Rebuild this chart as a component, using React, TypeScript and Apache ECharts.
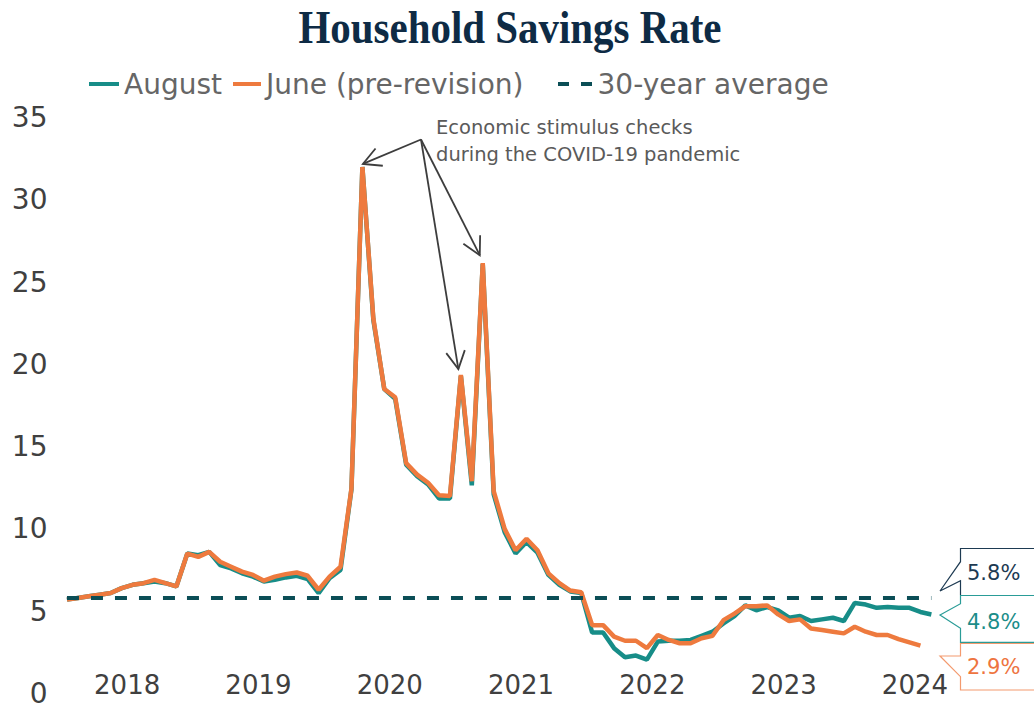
import { useEffect, useRef } from "react";
import * as echarts from "echarts";

const years = ["2018", "2019", "2020", "2021", "2022", "2023", "2024"];
const monthNames = ["01", "02", "03", "04", "05", "06", "07", "08", "09", "10", "11", "12"];

// Personal saving rate, % (August release), Jan 2018 – Aug 2024
const augustRate = [
  5.7, 5.8, 5.9, 6.0, 6.1, 6.4, 6.6, 6.7, 6.8, 6.7, 6.5, 8.5,
  8.4, 8.6, 7.8, 7.6, 7.3, 7.1, 6.8, 6.9, 7.05, 7.15, 6.95, 6.1,
  7.0, 7.5, 12.4, 32.0, 22.7, 18.5, 17.9, 13.9, 13.2, 12.7, 11.85, 11.85,
  19.3, 12.65, 26.1, 12.1, 9.8, 8.5, 9.2, 8.55, 7.2, 6.6, 6.2, 6.1,
  3.7, 3.7, 2.75, 2.2, 2.3, 2.05, 3.15, 3.2, 3.2, 3.25, 3.5, 3.75,
  4.25, 4.7, 5.35, 5.05, 5.25, 5.05, 4.6, 4.7, 4.4, 4.5, 4.6, 4.4,
  5.5, 5.4, 5.2, 5.25, 5.2, 5.2, 4.95, 4.8,
];

// Personal saving rate, % (June release, pre-revision), Jan 2018 – Jul 2024
const juneRate = [
  5.7, 5.8, 5.9, 6.0, 6.1, 6.4, 6.6, 6.7, 6.9, 6.7, 6.5, 8.5,
  8.3, 8.6, 8.0, 7.7, 7.4, 7.2, 6.85, 7.1, 7.25, 7.35, 7.15, 6.3,
  7.1, 7.7, 12.45, 32.0, 22.8, 18.5, 18.0, 14.0, 13.3, 12.8, 12.05, 12.0,
  19.35, 12.9, 26.15, 12.3, 10.0, 8.7, 9.4, 8.7, 7.3, 6.7, 6.25, 6.15,
  4.15, 4.15, 3.45, 3.2, 3.2, 2.75, 3.55, 3.25, 3.05, 3.05, 3.35, 3.5,
  4.45, 4.85, 5.3, 5.3, 5.35, 4.8, 4.4, 4.5, 3.95, 3.85, 3.75, 3.65,
  4.05, 3.75, 3.55, 3.55, 3.3, 3.1, 2.9,
];

const thirtyYearAverage = 5.8;
const yTicks = { min: 0, max: 35, interval: 5 };
const annotationLines = ["Economic stimulus checks", "during the COVID-19 pandemic"];
// months (index into the monthly axis) pointed at by the annotation arrows
const annotatedMonths = [27, 36, 38];

const months = years.flatMap((y) => monthNames.map((m) => `${y}-${m}`));

const TEAL = "#178d88";
const ORANGE = "#ee7a3e";
const DARK = "#0b4e56";
const NAVY = "#1d3a52";
const FONT = "DejaVu Sans";

export default function App() {
  const ref = useRef<HTMLDivElement>(null);

  useEffect(() => {
    const el = ref.current;
    if (!el) return;
    const chart = echarts.init(el, undefined, { renderer: "svg" });

    const legendBase = {
      top: 65,
      orient: "horizontal",
      selectedMode: false,
      itemHeight: 4,
      textStyle: { fontSize: 28, color: "#666666", fontFamily: FONT, lineHeight: 28 },
    };

    chart.setOption({
      animation: false,
      backgroundColor: "#ffffff",
      textStyle: { fontFamily: FONT },
      grid: { left: 61.5, right: 53.4, top: 117.6, bottom: 29.6, containLabel: false },
      legend: [
        { ...legendBase, left: 84, itemWidth: 30, data: [{ name: "August", icon: "rect" }] },
        { ...legendBase, left: 228, itemWidth: 28, data: [{ name: "June (pre-revision)", icon: "rect" }] },
        {
          ...legendBase,
          left: 553,
          itemWidth: 35,
          data: [{ name: "30-year average", icon: "path://M0,0H11V4H0Z M23,0H34V4H23Z" }],
        },
      ],
      xAxis: [
        {
          type: "category",
          data: months,
          boundaryGap: true,
          axisLine: { show: false },
          axisTick: { show: false },
          axisLabel: { show: false },
          splitLine: { show: false },
        },
        {
          type: "category",
          data: years,
          boundaryGap: true,
          position: "bottom",
          axisLine: { show: false },
          axisTick: { show: false },
          splitLine: { show: false },
          axisLabel: {
            fontSize: 26,
            color: "#404040",
            fontFamily: FONT,
            margin: -8,
            verticalAlign: "middle",
          },
        },
      ],
      yAxis: {
        type: "value",
        min: yTicks.min,
        max: yTicks.max,
        interval: yTicks.interval,
        splitLine: { show: false },
        axisLine: { show: false },
        axisTick: { show: false },
        axisLabel: { fontSize: 28, color: "#404040", fontFamily: FONT, margin: 14 },
      },
      series: [
        {
          name: "30-year average",
          type: "line",
          data: [],
          symbol: "none",
          itemStyle: { color: DARK },
          lineStyle: { color: DARK, width: 4, type: [12, 12] },
          z: 1,
          markLine: {
            silent: true,
            symbol: ["none", "none"],
            label: { show: false },
            lineStyle: { color: DARK, width: 4, type: [12, 12] },
            data: [[{ coord: [months[0], thirtyYearAverage] }, { coord: [months[augustRate.length - 1], thirtyYearAverage] }]],
          },
        },
        {
          name: "August",
          type: "line",
          data: augustRate,
          symbol: "none",
          itemStyle: { color: TEAL },
          lineStyle: { color: TEAL, width: 4.5 },
          z: 2,
        },
        {
          name: "June (pre-revision)",
          type: "line",
          data: juneRate,
          symbol: "none",
          itemStyle: { color: ORANGE },
          lineStyle: { color: ORANGE, width: 4.5 },
          z: 3,
        },
      ],
    });

    // annotation arrows anchored to the data points
    const origin = [421, 139.5];
    const tipOffsets = [
      [0.5, -3],
      [-2.5, -6],
      [-3, -8],
    ];
    const arrowEls: any[] = [];
    annotatedMonths.forEach((mi, k) => {
      const v = juneRate[mi];
      const p = chart.convertToPixel({ xAxisIndex: 0, yAxisIndex: 0 }, [months[mi], v]) as number[];
      const tip = [p[0] + tipOffsets[k][0], p[1] + tipOffsets[k][1]];
      const dx = origin[0] - tip[0];
      const dy = origin[1] - tip[1];
      const len = Math.hypot(dx, dy);
      const ux = dx / len;
      const uy = dy / len;
      const a = (28 * Math.PI) / 180;
      const L = 20;
      const arm = (s: number) => [
        tip[0] + L * (ux * Math.cos(s * a) - uy * Math.sin(s * a)),
        tip[1] + L * (ux * Math.sin(s * a) + uy * Math.cos(s * a)),
      ];
      arrowEls.push({
        type: "line",
        shape: { x1: origin[0], y1: origin[1], x2: tip[0], y2: tip[1] },
        style: { stroke: "#3d3d3d", lineWidth: 1.8 },
        silent: true,
        z: 10,
      });
      arrowEls.push({
        type: "polyline",
        shape: { points: [arm(1), tip, arm(-1)] },
        style: { stroke: "#3d3d3d", lineWidth: 1.8, fill: null },
        silent: true,
        z: 10,
      });
    });

    const lastAug = augustRate[augustRate.length - 1];
    const lastJune = juneRate[juneRate.length - 1];

    chart.setOption({
      graphic: [
        {
          type: "text",
          x: 510,
          y: 27,
          scaleX: 0.89,
          silent: true,
          style: {
            text: "Household Savings Rate",
            x: 0,
            y: 0,
            align: "center",
            verticalAlign: "middle",
            fontFamily: "Liberation Serif",
            fontWeight: "bold",
            fontSize: 46,
            fill: "#0e2b45",
          },
        },
        {
          type: "text",
          x: 436,
          y: 127.5,
          silent: true,
          style: {
            text: annotationLines[0],
            verticalAlign: "middle",
            fontFamily: FONT,
            fontSize: 19.5,
            fill: "#5a5a5a",
          },
        },
        {
          type: "text",
          x: 436,
          y: 154.2,
          silent: true,
          style: {
            text: annotationLines[1],
            verticalAlign: "middle",
            fontFamily: FONT,
            fontSize: 19.5,
            fill: "#5a5a5a",
          },
        },
        ...arrowEls,
        // value call-outs at the right
        {
          type: "polyline",
          silent: true,
          shape: {
            points: [
              [1040, 548.5],
              [960.5, 548.5],
              [960.5, 561.7],
              [940, 591],
              [960.5, 580.7],
              [960.5, 595],
            ],
          },
          style: { stroke: NAVY, lineWidth: 1.2, fill: null },
        },
        {
          type: "polyline",
          silent: true,
          shape: {
            points: [
              [1040, 595.5],
              [960.5, 595.5],
              [960.5, 603.7],
              [940, 615],
              [960.5, 628.3],
              [960.5, 642.3],
              [1040, 642.3],
            ],
          },
          style: { stroke: "#2a9c97", lineWidth: 1.2, fill: null },
        },
        {
          type: "polyline",
          silent: true,
          shape: {
            points: [
              [1040, 643.5],
              [960.5, 643.5],
              [960.5, 656],
              [940, 656],
              [960.5, 676.7],
              [960.5, 690],
              [1040, 690],
            ],
          },
          style: { stroke: "#f39a6e", lineWidth: 1.2, fill: null },
        },
        {
          type: "text",
          x: 967,
          y: 573,
          silent: true,
          style: { text: `${thirtyYearAverage.toFixed(1)}%`, verticalAlign: "middle", fontFamily: FONT, fontSize: 21, fill: NAVY },
        },
        {
          type: "text",
          x: 967,
          y: 621.7,
          silent: true,
          style: { text: `${lastAug.toFixed(1)}%`, verticalAlign: "middle", fontFamily: FONT, fontSize: 21, fill: "#1b8d89" },
        },
        {
          type: "text",
          x: 967,
          y: 666.7,
          silent: true,
          style: { text: `${lastJune.toFixed(1)}%`, verticalAlign: "middle", fontFamily: FONT, fontSize: 21, fill: "#ee7440" },
        },
      ],
    });

    return () => {
      chart.dispose();
    };
  }, []);

  return (
    <div
      ref={ref}
      style={{ position: "absolute", left: 0, top: 0, width: 1034, height: 723, background: "#ffffff" }}
    />
  );
}
